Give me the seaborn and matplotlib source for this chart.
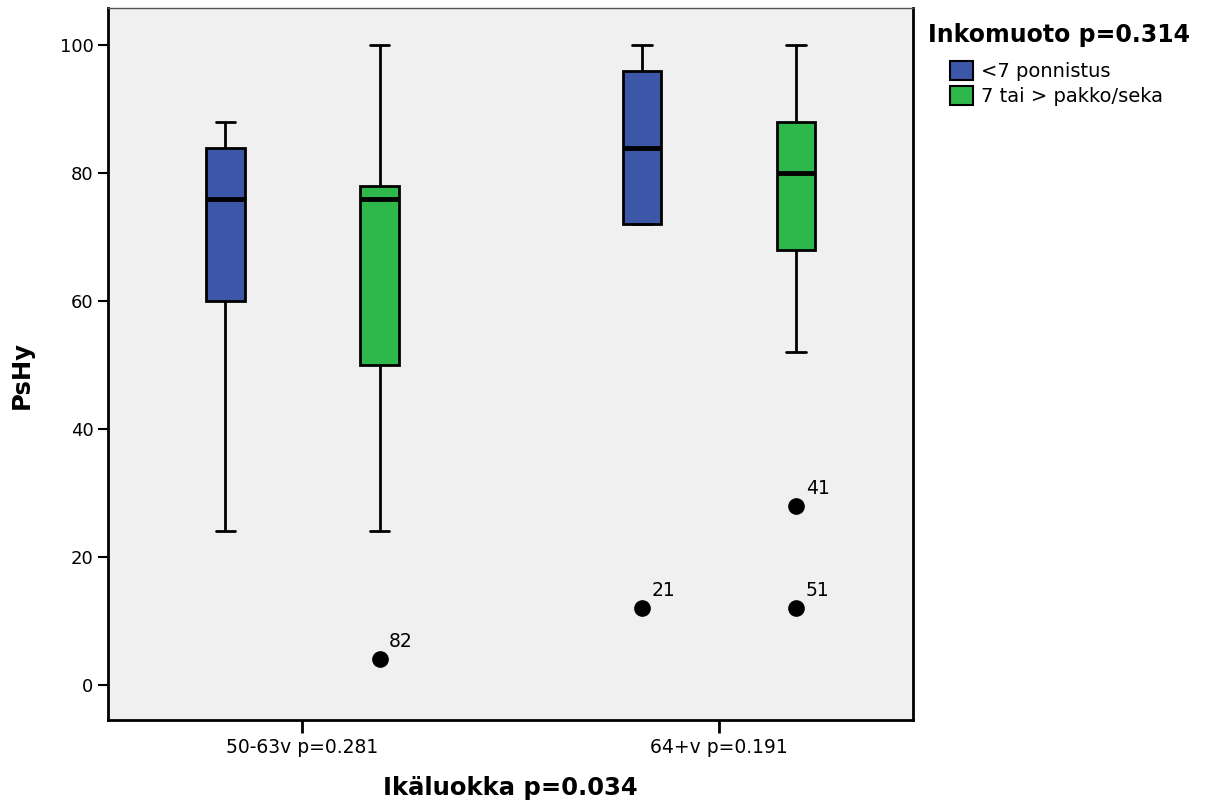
# %% Imports
import numpy as np
import pandas as pd
import matplotlib.pyplot as plt
import seaborn as sns
from matplotlib.patches import Patch

# %% Data
age_groups = ["50-63v p=0.281", "64+v p=0.191"]
birth_types = ["<7 ponnistus", "7 tai > pakko/seka"]

# raw values per (age group, birth type) so that the quartiles match the picture
g1_push = [24, 60, 76, 84, 88]
g1_forced = [4, 24, 50, 60, 76, 77, 78, 90, 100]
g2_push = [12, 72, 72, 80, 84, 90, 96, 98, 100]
g2_forced = [12, 28, 52, 68, 70, 75, 80, 82, 85, 88, 92, 96, 100]

# case numbers shown next to the outliers
outlier_group = [0, 1, 1, 1]
outlier_type = [1, 0, 1, 1]
outlier_value = [4, 12, 28, 12]
outlier_case = ["82", "21", "41", "51"]

colors = ["#3c56a8", "#2eb84b"]

rows = []
for grp, typ, vals in [(0, 0, g1_push), (0, 1, g1_forced),
                       (1, 0, g2_push), (1, 1, g2_forced)]:
    for v in vals:
        rows.append({"age": age_groups[grp], "type": birth_types[typ], "PsHy": v})
df = pd.DataFrame(rows)

# %% Plot
sns.set_style("ticks")
plt.rcParams["font.family"] = ["DejaVu Sans"]
plt.rcParams["text.color"] = "black"
plt.rcParams["axes.labelcolor"] = "black"
plt.rcParams["xtick.labelcolor"] = "black"
plt.rcParams["ytick.labelcolor"] = "black"

fig = plt.figure(figsize=(12.12, 8.05), dpi=100)
ax = fig.add_axes([0.0891, 0.1056, 0.6642, 0.8844])
ax.set_facecolor("#f0f0f0")

box_width = 0.74
sns.boxplot(data=df, x="age", y="PsHy", hue="type",
            order=age_groups, hue_order=birth_types,
            palette=colors, saturation=1, width=box_width, gap=0.75,
            linecolor="black", linewidth=2, whis=1.5,
            medianprops={"linewidth": 3.5, "color": "black"},
            flierprops={"marker": "o", "markerfacecolor": "black",
                        "markeredgecolor": "black", "markersize": 11},
            legend=False, ax=ax)

for g, t, v, c in zip(outlier_group, outlier_type, outlier_value, outlier_case):
    xpos = g + (t - 0.5) * box_width / 2
    ax.annotate(c, (xpos, v), xytext=(7, 6), textcoords="offset points",
                ha="left", va="bottom", fontsize=13.5)

ax.set_xlim(-0.467, 1.466)
ax.set_ylim(-5.47, 105.8)
ax.set_yticks([0, 20, 40, 60, 80, 100])
ax.tick_params(axis="y", labelsize=13, length=7, width=1.5, color="black")
ax.tick_params(axis="x", labelsize=13.5, length=9, width=2, color="black", pad=4)
ax.set_xlabel("Ikäluokka p=0.034", fontsize=17.5, fontweight="bold", labelpad=14)
ax.set_ylabel("PsHy", fontsize=17.5, fontweight="bold")
ax.yaxis.set_label_coords(-0.092, 0.485)

for side in ["left", "bottom", "right"]:
    ax.spines[side].set_color("black")
    ax.spines[side].set_linewidth(2)
ax.spines["top"].set_color("#555555")
ax.spines["top"].set_linewidth(1)

# legend: bold title on its own, entries indented below it
fig.text(0.766, 0.948, "Inkomuoto p=0.314", fontsize=17, fontweight="bold",
         ha="left", va="baseline")
handles = [Patch(facecolor=c, edgecolor="black", linewidth=1.5) for c in colors]
fig.legend(handles, birth_types, loc="upper left", bbox_to_anchor=(0.7835, 0.924),
           frameon=False, fontsize=14, handlelength=1.2, handleheight=1.1,
           handletextpad=0.4, labelspacing=0.25, borderpad=0, borderaxespad=0)

fig.savefig("out.png", dpi=100)
